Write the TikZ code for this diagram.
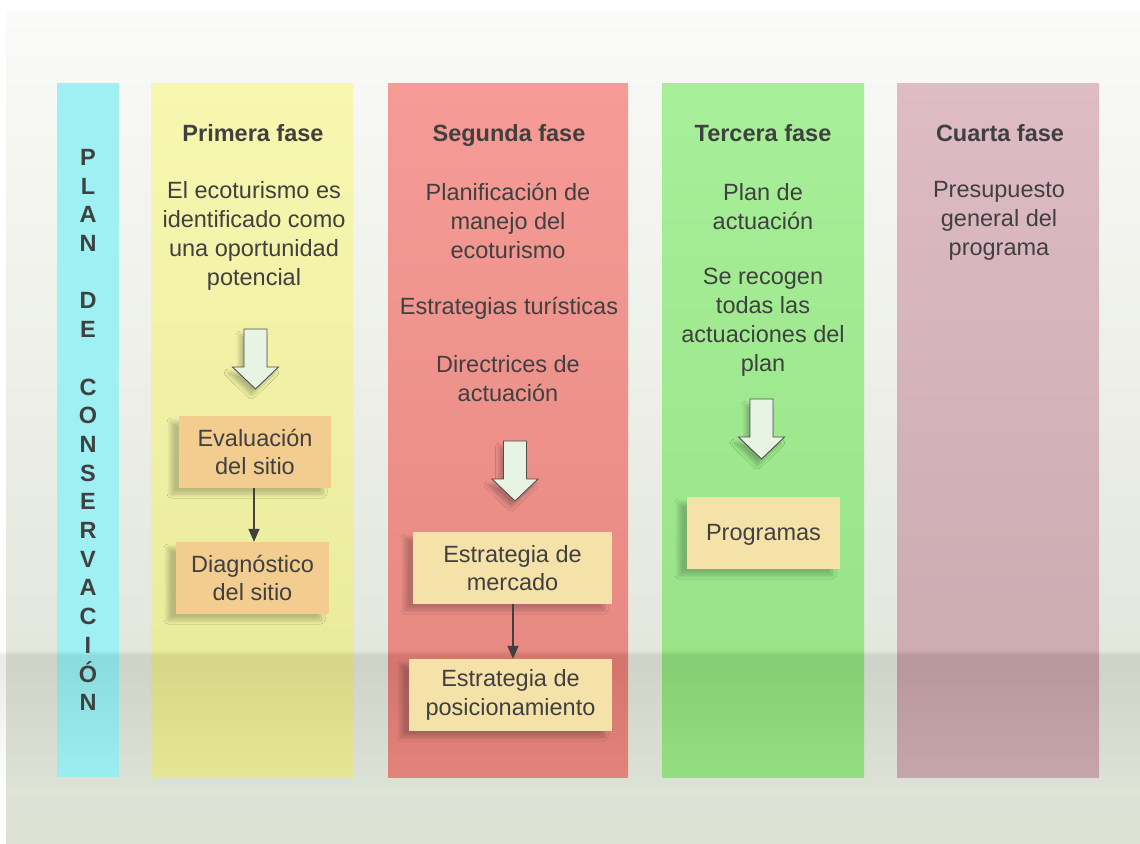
\documentclass[tikz,border=0pt]{standalone}
\usepackage{fontspec}
\setmainfont{Liberation Sans}
\usetikzlibrary{arrows.meta,shadows.blur}
\definecolor{txt}{HTML}{404040}
\definecolor{bgtop}{HTML}{FAFAF8}
\definecolor{bgbot}{HTML}{DCE1D4}
\definecolor{cyancol}{HTML}{9EF0F3}
\definecolor{yeltop}{HTML}{F7F7B0}
\definecolor{yelbot}{HTML}{E7E998}
\definecolor{redtop}{HTML}{F69B96}
\definecolor{redbot}{HTML}{E4867E}
\definecolor{grntop}{HTML}{A7EF99}
\definecolor{grnbot}{HTML}{95E183}
\definecolor{mautop}{HTML}{DEBBC5}
\definecolor{maubot}{HTML}{C9A8AD}
\definecolor{boxora}{HTML}{F2CD8F}
\definecolor{boxyel}{HTML}{F5E2A8}
\definecolor{arrfill}{HTML}{E7F3E3}
\definecolor{arrline}{HTML}{505050}
\newcommand\blkarrow[2]{%
  \draw[blockarrow] (#1-11.5,#2) -- (#1+11.5,#2) -- (#1+11.5,#2+38) -- (#1+23,#2+38)
    -- (#1,#2+60) -- (#1-23,#2+38) -- (#1-11.5,#2+38) -- cycle;}
\begin{document}
\begin{tikzpicture}[x=1pt,y=-1pt,
  col/.style={draw=none,inner sep=0pt,minimum height=694pt},
  title/.style={text=txt,font=\fontsize{23.5}{29}\selectfont\bfseries,inner sep=0pt},
  body/.style={text=txt,font=\fontsize{23.5}{29}\selectfont,align=center,inner sep=0pt},
  vert/.style={text=txt,font=\fontsize{23.5}{28.7}\selectfont\bfseries,align=center,inner sep=0pt},
  stepbox/.style={text=txt,font=\fontsize{23.5}{28.5}\selectfont,align=center,inner sep=0pt,
    minimum height=72pt,
    blur shadow={shadow xshift=-8pt,shadow yshift=-6pt,shadow blur radius=4pt,shadow blur steps=8,shadow opacity=22}},
  blockarrow/.style={draw=arrline,line width=0.9pt,fill=arrfill,line join=miter,
    blur shadow={shadow xshift=-4pt,shadow yshift=-6pt,shadow blur radius=4pt,shadow blur steps=8,shadow opacity=25}},
  conn/.style={draw=txt,line width=1.5pt,-{Triangle[width=11pt,length=13pt]}}]
\useasboundingbox (0,0) rectangle (1140,843);
% background
\fill[top color=bgtop,bottom color=bgbot] (6,12) rectangle (1140,843);
% columns
\node[col,fill=cyancol,minimum width=62pt] (c0) at (88,430) {};
\node[col,top color=yeltop,bottom color=yelbot,minimum width=202pt] (c1) at (252,430) {};
\node[col,top color=redtop,bottom color=redbot,minimum width=240pt] (c2) at (508,430) {};
\node[col,top color=grntop,bottom color=grnbot,minimum width=202pt] (c3) at (763,430) {};
\node[col,top color=mautop,bottom color=maubot,minimum width=202pt] (c4) at (998,430) {};
% reflection band (soft)
\foreach \k in {0,...,19}
  \fill[black,opacity=0.0055] (0,650+0.3*\k) rectangle (1140,790-6.5*\k);
% vertical title
\node[vert] (vt) at (88,430) {P\\L\\A\\N\\\mbox{}\\D\\E\\\mbox{}\\C\\O\\N\\S\\E\\R\\V\\A\\C\\I\\Ó\\N};
% titles
\node[title] (t1) at (253,133) {Primera fase};
\node[title] (t2) at (509,135) {Segunda fase};
\node[title] (t3) at (763,133) {Tercera fase};
\node[title] (t4) at (1000,133) {Cuarta fase};
% body texts
\node[body] (b1) at (254,235.5) {El ecoturismo es\\identificado como\\una oportunidad\\potencial};
\node[body] (b2a) at (508,221) {Planificación de\\manejo del\\ecoturismo};
\node[body] (b2b) at (509,308) {Estrategias turísticas};
\node[body] (b2c) at (508,379) {Directrices de\\actuación};
\node[body] (b3a) at (763,206.5) {Plan de\\actuación};
\node[body] (b3b) at (763,322) {Se recogen\\todas las\\actuaciones del\\plan};
\node[body] (b4) at (999,221) {Presupuesto\\general del\\programa};
% block arrows
\blkarrow{255.5}{329}
\blkarrow{515}{441}
\blkarrow{761.5}{399}
% boxes
\node[stepbox,fill=boxora,minimum width=152pt] (eval) at (255,452) {Evaluación\\del sitio};
\node[stepbox,fill=boxora,minimum width=153pt] (diag) at (252.5,578) {Diagnóstico\\del sitio};
\node[stepbox,fill=boxyel,minimum width=199pt] (merc) at (512.5,568) {Estrategia de\\mercado};
\node[stepbox,fill=boxyel,minimum width=203pt] (posi) at (510.5,695) {Estrategia de\\posicionamiento};
\node[stepbox,fill=boxyel,minimum width=153pt] (prog) at (763.5,533) {\raisebox{-2pt}[\height][\depth]{Programas}};
% connectors
\draw[conn] (eval.south -| 254,0) -- (diag.north -| 254,0);
\draw[conn] (merc.south -| 513,0) -- (posi.north -| 513,0);
\end{tikzpicture}
\end{document}
